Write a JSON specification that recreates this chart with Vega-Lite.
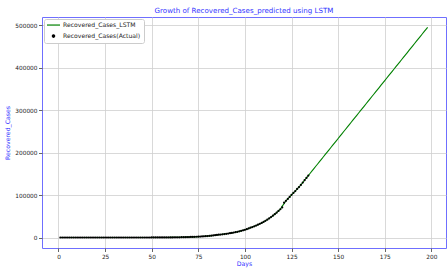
{
  "$schema": "https://vega.github.io/schema/vega-lite/v6.json",
  "width": 404,
  "height": 231,
  "autosize": "none",
  "padding": {"left": 42, "top": 17, "right": 2, "bottom": 21},
  "background": "white",
  "config": {
    "font": "DejaVu Sans",
    "view": {"stroke": "#6f6fff", "strokeWidth": 1},
    "axis": {
      "labelFont": "DejaVu Sans",
      "titleFont": "DejaVu Sans",
      "labelFontSize": 5.8,
      "labelColor": "#222222",
      "tickColor": "#222222",
      "tickSize": 3.5,
      "tickWidth": 0.7,
      "domain": false,
      "grid": true,
      "gridColor": "#cfcfcf",
      "gridWidth": 0.8,
      "titleColor": "#3333ff",
      "titleFontSize": 6.2,
      "titleFontWeight": "normal"
    }
  },
  "title": {
    "text": "Growth of Recovered_Cases_predicted using LSTM",
    "color": "#3333ff",
    "fontSize": 7.1,
    "fontWeight": "normal",
    "font": "DejaVu Sans",
    "offset": 3
  },
  "data": {
    "values": [
      {"Days": 1, "Actual": 0, "LSTM": 0}, {"Days": 2, "Actual": 0, "LSTM": 0}, {"Days": 3, "Actual": 0, "LSTM": 0}, {"Days": 4, "Actual": 0, "LSTM": 0}, {"Days": 5, "Actual": 0, "LSTM": 0},
      {"Days": 6, "Actual": 0, "LSTM": 0}, {"Days": 7, "Actual": 0, "LSTM": 0}, {"Days": 8, "Actual": 0, "LSTM": 0}, {"Days": 9, "Actual": 0, "LSTM": 0}, {"Days": 10, "Actual": 0, "LSTM": 0},
      {"Days": 11, "Actual": 0, "LSTM": 0}, {"Days": 12, "Actual": 0, "LSTM": 0}, {"Days": 13, "Actual": 0, "LSTM": 0}, {"Days": 14, "Actual": 0, "LSTM": 0}, {"Days": 15, "Actual": 0, "LSTM": 0},
      {"Days": 16, "Actual": 0, "LSTM": 0}, {"Days": 17, "Actual": 0, "LSTM": 0}, {"Days": 18, "Actual": 0, "LSTM": 0}, {"Days": 19, "Actual": 0, "LSTM": 0}, {"Days": 20, "Actual": 0, "LSTM": 0},
      {"Days": 21, "Actual": 3, "LSTM": 3}, {"Days": 22, "Actual": 3, "LSTM": 3}, {"Days": 23, "Actual": 3, "LSTM": 3}, {"Days": 24, "Actual": 3, "LSTM": 3}, {"Days": 25, "Actual": 3, "LSTM": 3},
      {"Days": 26, "Actual": 3, "LSTM": 3}, {"Days": 27, "Actual": 3, "LSTM": 3}, {"Days": 28, "Actual": 3, "LSTM": 3}, {"Days": 29, "Actual": 3, "LSTM": 3}, {"Days": 30, "Actual": 3, "LSTM": 3},
      {"Days": 31, "Actual": 3, "LSTM": 3}, {"Days": 32, "Actual": 3, "LSTM": 3}, {"Days": 33, "Actual": 3, "LSTM": 3}, {"Days": 34, "Actual": 3, "LSTM": 3}, {"Days": 35, "Actual": 3, "LSTM": 3},
      {"Days": 36, "Actual": 3, "LSTM": 3}, {"Days": 37, "Actual": 3, "LSTM": 3}, {"Days": 38, "Actual": 3, "LSTM": 3}, {"Days": 39, "Actual": 3, "LSTM": 3}, {"Days": 40, "Actual": 3, "LSTM": 3},
      {"Days": 41, "Actual": 3, "LSTM": 3}, {"Days": 42, "Actual": 3, "LSTM": 3}, {"Days": 43, "Actual": 3, "LSTM": 3}, {"Days": 44, "Actual": 4, "LSTM": 4}, {"Days": 45, "Actual": 10, "LSTM": 10},
      {"Days": 46, "Actual": 10, "LSTM": 10}, {"Days": 47, "Actual": 13, "LSTM": 13}, {"Days": 48, "Actual": 14, "LSTM": 14}, {"Days": 49, "Actual": 15, "LSTM": 15}, {"Days": 50, "Actual": 20, "LSTM": 20},
      {"Days": 51, "Actual": 23, "LSTM": 23}, {"Days": 52, "Actual": 27, "LSTM": 27}, {"Days": 53, "Actual": 40, "LSTM": 40}, {"Days": 54, "Actual": 43, "LSTM": 43}, {"Days": 55, "Actual": 95, "LSTM": 95},
      {"Days": 56, "Actual": 99, "LSTM": 99}, {"Days": 57, "Actual": 123, "LSTM": 123}, {"Days": 58, "Actual": 148, "LSTM": 148}, {"Days": 59, "Actual": 169, "LSTM": 169}, {"Days": 60, "Actual": 191, "LSTM": 191},
      {"Days": 61, "Actual": 229, "LSTM": 229}, {"Days": 62, "Actual": 306, "LSTM": 306}, {"Days": 63, "Actual": 351, "LSTM": 351}, {"Days": 64, "Actual": 411, "LSTM": 411}, {"Days": 65, "Actual": 500, "LSTM": 500},
      {"Days": 66, "Actual": 620, "LSTM": 620}, {"Days": 67, "Actual": 750, "LSTM": 750}, {"Days": 68, "Actual": 880, "LSTM": 880}, {"Days": 69, "Actual": 1000, "LSTM": 1000}, {"Days": 70, "Actual": 1150, "LSTM": 1150},
      {"Days": 71, "Actual": 1280, "LSTM": 1280}, {"Days": 72, "Actual": 1420, "LSTM": 1420}, {"Days": 73, "Actual": 1580, "LSTM": 1580}, {"Days": 74, "Actual": 1780, "LSTM": 1780}, {"Days": 75, "Actual": 2000, "LSTM": 2000},
      {"Days": 76, "Actual": 2250, "LSTM": 2250}, {"Days": 77, "Actual": 2500, "LSTM": 2500}, {"Days": 78, "Actual": 2800, "LSTM": 2800}, {"Days": 79, "Actual": 3100, "LSTM": 3100}, {"Days": 80, "Actual": 3450, "LSTM": 3450},
      {"Days": 81, "Actual": 3850, "LSTM": 3850}, {"Days": 82, "Actual": 4300, "LSTM": 4300}, {"Days": 83, "Actual": 4800, "LSTM": 4800}, {"Days": 84, "Actual": 5350, "LSTM": 5350}, {"Days": 85, "Actual": 5950, "LSTM": 5950},
      {"Days": 86, "Actual": 6500, "LSTM": 6500}, {"Days": 87, "Actual": 7000, "LSTM": 7000}, {"Days": 88, "Actual": 7550, "LSTM": 7550}, {"Days": 89, "Actual": 8100, "LSTM": 8100}, {"Days": 90, "Actual": 8700, "LSTM": 8700},
      {"Days": 91, "Actual": 9350, "LSTM": 9350}, {"Days": 92, "Actual": 10050, "LSTM": 10050}, {"Days": 93, "Actual": 10800, "LSTM": 10800}, {"Days": 94, "Actual": 11600, "LSTM": 11600}, {"Days": 95, "Actual": 12500, "LSTM": 12500},
      {"Days": 96, "Actual": 13450, "LSTM": 13450}, {"Days": 97, "Actual": 14500, "LSTM": 14500}, {"Days": 98, "Actual": 15650, "LSTM": 15650}, {"Days": 99, "Actual": 16900, "LSTM": 16900}, {"Days": 100, "Actual": 18250, "LSTM": 18250},
      {"Days": 101, "Actual": 19700, "LSTM": 19700}, {"Days": 102, "Actual": 21300, "LSTM": 21300}, {"Days": 103, "Actual": 23000, "LSTM": 23000}, {"Days": 104, "Actual": 24700, "LSTM": 24700}, {"Days": 105, "Actual": 26400, "LSTM": 26400},
      {"Days": 106, "Actual": 28200, "LSTM": 28200}, {"Days": 107, "Actual": 30100, "LSTM": 30100}, {"Days": 108, "Actual": 32200, "LSTM": 32200}, {"Days": 109, "Actual": 34400, "LSTM": 34400}, {"Days": 110, "Actual": 36800, "LSTM": 36800},
      {"Days": 111, "Actual": 39400, "LSTM": 39400}, {"Days": 112, "Actual": 42100, "LSTM": 42100}, {"Days": 113, "Actual": 45000, "LSTM": 45000}, {"Days": 114, "Actual": 48100, "LSTM": 48100}, {"Days": 115, "Actual": 51400, "LSTM": 51400},
      {"Days": 116, "Actual": 54900, "LSTM": 54900}, {"Days": 117, "Actual": 58600, "LSTM": 58600}, {"Days": 118, "Actual": 62500, "LSTM": 62500}, {"Days": 119, "Actual": 66600, "LSTM": 66600}, {"Days": 120, "Actual": 71000, "LSTM": 74000},
      {"Days": 121, "Actual": 82000, "LSTM": 80000}, {"Days": 122, "Actual": 86500, "LSTM": 86500}, {"Days": 123, "Actual": 91000, "LSTM": 91000}, {"Days": 124, "Actual": 95500, "LSTM": 95500}, {"Days": 125, "Actual": 100500, "LSTM": 100500},
      {"Days": 126, "Actual": 105000, "LSTM": 105000}, {"Days": 127, "Actual": 109500, "LSTM": 109500}, {"Days": 128, "Actual": 114500, "LSTM": 114500}, {"Days": 129, "Actual": 119000, "LSTM": 119000}, {"Days": 130, "Actual": 124000, "LSTM": 124000},
      {"Days": 131, "Actual": 129500, "LSTM": 129500}, {"Days": 132, "Actual": 135000, "LSTM": 135000}, {"Days": 133, "Actual": 140500, "LSTM": 140500}, {"Days": 134, "Actual": 146000, "LSTM": 146000},
      {"Days": 135, "LSTM": 151500}, {"Days": 136, "LSTM": 157000}, {"Days": 137, "LSTM": 162400}, {"Days": 138, "LSTM": 167900}, {"Days": 139, "LSTM": 173300},
      {"Days": 140, "LSTM": 178800}, {"Days": 141, "LSTM": 184300}, {"Days": 142, "LSTM": 189700}, {"Days": 143, "LSTM": 195200}, {"Days": 144, "LSTM": 200600},
      {"Days": 145, "LSTM": 206100}, {"Days": 146, "LSTM": 211600}, {"Days": 147, "LSTM": 217000}, {"Days": 148, "LSTM": 222500}, {"Days": 149, "LSTM": 227900},
      {"Days": 150, "LSTM": 233400}, {"Days": 151, "LSTM": 238900}, {"Days": 152, "LSTM": 244300}, {"Days": 153, "LSTM": 249800}, {"Days": 154, "LSTM": 255200},
      {"Days": 155, "LSTM": 260700}, {"Days": 156, "LSTM": 266200}, {"Days": 157, "LSTM": 271600}, {"Days": 158, "LSTM": 277100}, {"Days": 159, "LSTM": 282500},
      {"Days": 160, "LSTM": 288000}, {"Days": 161, "LSTM": 293500}, {"Days": 162, "LSTM": 298900}, {"Days": 163, "LSTM": 304400}, {"Days": 164, "LSTM": 309800},
      {"Days": 165, "LSTM": 315300}, {"Days": 166, "LSTM": 320800}, {"Days": 167, "LSTM": 326200}, {"Days": 168, "LSTM": 331700}, {"Days": 169, "LSTM": 337100},
      {"Days": 170, "LSTM": 342600}, {"Days": 171, "LSTM": 348100}, {"Days": 172, "LSTM": 353500}, {"Days": 173, "LSTM": 359000}, {"Days": 174, "LSTM": 364400},
      {"Days": 175, "LSTM": 369900}, {"Days": 176, "LSTM": 375400}, {"Days": 177, "LSTM": 380800}, {"Days": 178, "LSTM": 386300}, {"Days": 179, "LSTM": 391700},
      {"Days": 180, "LSTM": 397200}, {"Days": 181, "LSTM": 402700}, {"Days": 182, "LSTM": 408100}, {"Days": 183, "LSTM": 413600}, {"Days": 184, "LSTM": 419000},
      {"Days": 185, "LSTM": 424500}, {"Days": 186, "LSTM": 430000}, {"Days": 187, "LSTM": 435400}, {"Days": 188, "LSTM": 440900}, {"Days": 189, "LSTM": 446300},
      {"Days": 190, "LSTM": 451800}, {"Days": 191, "LSTM": 457300}, {"Days": 192, "LSTM": 462700}, {"Days": 193, "LSTM": 468200}, {"Days": 194, "LSTM": 473600},
      {"Days": 195, "LSTM": 479100}, {"Days": 196, "LSTM": 484600}, {"Days": 197, "LSTM": 490000}, {"Days": 198, "LSTM": 495500}
    ]
  },
  "encoding": {
    "x": {
      "field": "Days",
      "type": "quantitative",
      "scale": {"domain": [-8.85, 207.85], "nice": false, "zero": false},
      "axis": {"values": [0, 25, 50, 75, 100, 125, 150, 175, 200], "title": "Days", "titlePadding": 1.5, "labelPadding": 1.5}
    }
  },
  "layer": [
    {
      "mark": {"type": "line", "strokeWidth": 1.1, "clip": true},
      "encoding": {
        "y": {
          "field": "LSTM",
          "type": "quantitative",
          "scale": {"domain": [-24750, 519750], "nice": false, "zero": false},
          "axis": {"values": [0, 100000, 200000, 300000, 400000, 500000], "format": "d", "title": "Recovered_Cases", "titlePadding": 4, "labelPadding": 1.5}
        },
        "color": {
          "datum": "Recovered_Cases_LSTM",
          "type": "nominal",
          "scale": {"domain": ["Recovered_Cases_LSTM", "Recovered_Cases(Actual)"], "range": ["#008000", "#000000"]},
          "legend": {
            "title": null,
            "orient": "none",
            "legendX": 2,
            "legendY": 2,
            "fillColor": "white",
            "strokeColor": "#cccccc",
            "cornerRadius": 2,
            "padding": 3,
            "labelFont": "DejaVu Sans",
            "labelFontSize": 6.1,
            "labelColor": "#222222",
            "rowPadding": 3,
            "symbolSize": 169,
            "labelOffset": 4,
            "encode": {
              "symbols": {
                "update": {
                  "x": {"value": 6.5},
                  "shape": {"signal": "datum.value === 'Recovered_Cases_LSTM' ? 'stroke' : 'circle'"},
                  "size": {"signal": "datum.value === 'Recovered_Cases_LSTM' ? 169 : 6"},
                  "fill": {"signal": "datum.value === 'Recovered_Cases_LSTM' ? 'transparent' : 'black'"},
                  "stroke": {"signal": "datum.value === 'Recovered_Cases_LSTM' ? '#008000' : 'black'"},
                  "strokeWidth": {"value": 1.2}
                }
              },
              "labels": {
                "update": {
                  "x": {"value": 16}
                }
              }
            }
          }
        }
      }
    },
    {
      "mark": {"type": "point", "filled": true, "size": 5, "opacity": 1},
      "encoding": {
        "y": {"field": "Actual", "type": "quantitative"},
        "color": {"datum": "Recovered_Cases(Actual)", "type": "nominal"}
      }
    }
  ]
}
